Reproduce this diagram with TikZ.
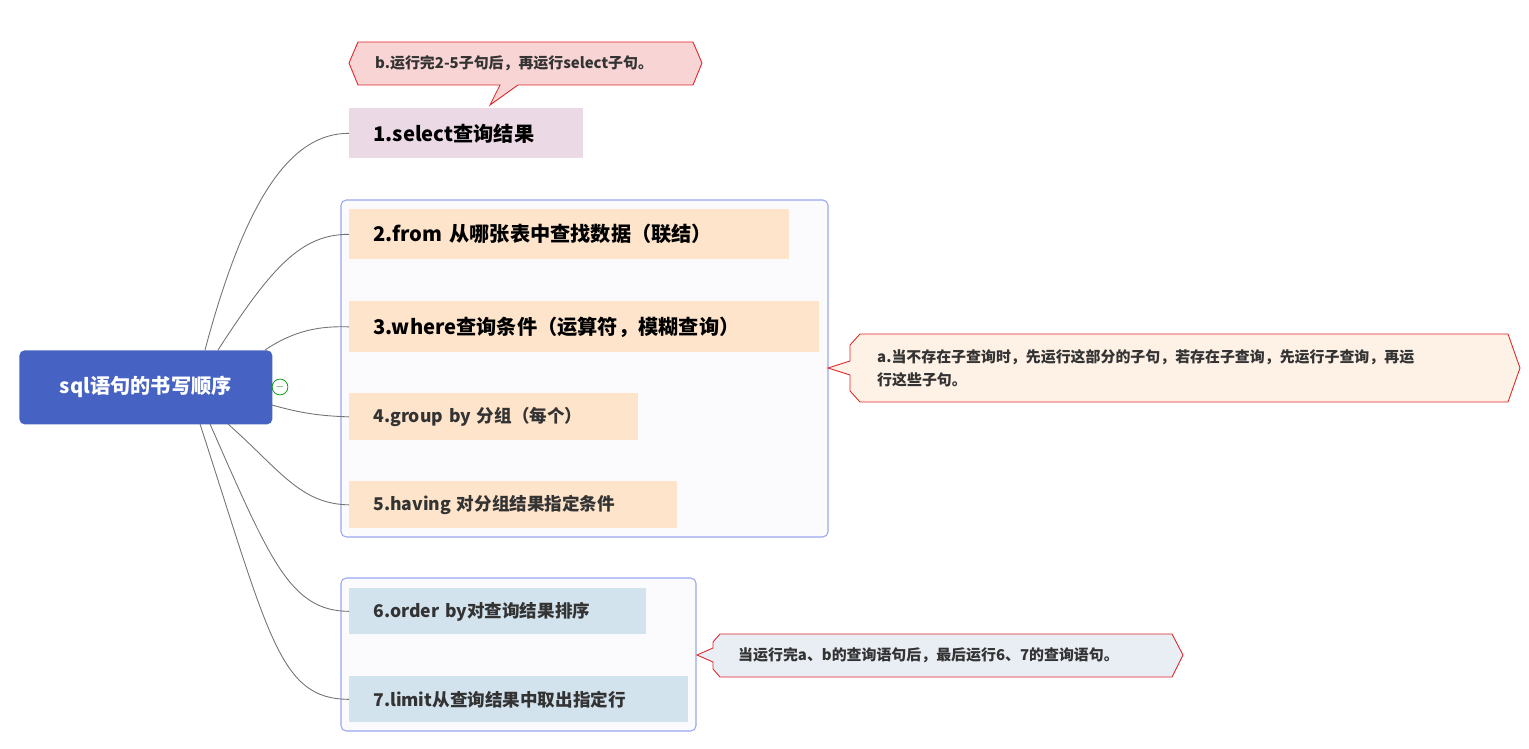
\documentclass[tikz,border=0pt]{standalone}
\usepackage{fontspec}
\setmainfont{Noto Sans CJK SC}
\usetikzlibrary{positioning,calc}
\definecolor{rootblue}{HTML}{4662C2}
\definecolor{selpink}{HTML}{EBD9E5}
\definecolor{wherepeach}{HTML}{FDE4CB}
\definecolor{ordblue}{HTML}{D3E3EE}
\definecolor{grpline}{HTML}{9AA6EE}
\definecolor{grpfill}{HTML}{FBFBFE}
\definecolor{notered}{HTML}{E0262A}
\definecolor{notepink}{HTML}{F8D4D4}
\definecolor{notecream}{HTML}{FEF2E6}
\definecolor{noteblue}{HTML}{E9EEF5}
\definecolor{txt}{HTML}{333333}
\begin{document}
\begin{tikzpicture}[x=0.02cm,y=-0.02cm,
  topic/.style={anchor=north west, inner xsep=0.48cm, inner ysep=0pt, align=left, text=txt, font=\bfseries},
  big/.style={topic, font=\bfseries\fontsize{11.5}{13}\selectfont, text=black},
  small/.style={topic, font=\bfseries\fontsize{10}{12}\selectfont},
  group/.style={draw=grpline, fill=grpfill, rounded corners=3pt, line width=0.6pt},
  note/.style={draw=notered, line width=0.5pt},
  notetext/.style={font=\bfseries\fontsize{8.5}{13}\selectfont, text=txt, align=left, anchor=west},
  link/.style={draw=black!55, line width=0.5pt}]
  \useasboundingbox (0,0) rectangle (1529,749);
  % groups
  \draw[group] (341,200) rectangle (828,537);
  \draw[group] (341,578) rectangle (696,731);
  % root
  \node[fill=rootblue, rounded corners=3pt, minimum width=253*0.02cm, minimum height=74*0.02cm,
        text=white, font=\bfseries\fontsize{11.5}{13}\selectfont, anchor=north west] (root) at (19,350) {sql语句的书写顺序};
  \node[draw=green!60!black, circle, inner sep=0pt, minimum size=9pt, font=\tiny, text=green!50!black] (fold) at (280,387) {$-$};
  % topics
  \node[big, fill=selpink, text width=186*0.02cm, minimum height=50*0.02cm] (sel) at (349,108) {1.select查询结果};
  \node[big, fill=wherepeach, text width=392*0.02cm, minimum height=50*0.02cm] (from) at (349,209) {2.from 从哪张表中查找数据（联结）};
  \node[big, fill=wherepeach, text width=422*0.02cm, minimum height=51*0.02cm] (where) at (349,301) {3.where查询条件（运算符，模糊查询）};
  \node[small, fill=wherepeach, text width=241*0.02cm, minimum height=47*0.02cm] (group) at (349,393) {4.group by 分组（每个）};
  \node[small, fill=wherepeach, text width=280*0.02cm, minimum height=47*0.02cm] (having) at (349,481) {5.having 对分组结果指定条件};
  \node[small, fill=ordblue, text width=249*0.02cm, minimum height=46*0.02cm] (order) at (349,588) {6.order by对查询结果排序};
  \node[small, fill=ordblue, text width=291*0.02cm, minimum height=46*0.02cm] (limit) at (349,676) {7.limit从查询结果中取出指定行};
  % connectors
  \coordinate (s1) at (205,350);
  \coordinate (s2) at (218,350);
  \coordinate (s3) at (265,350);
  \coordinate (s4) at (272,405);
  \coordinate (s5) at (228,424);
  \coordinate (s6) at (210,424);
  \coordinate (s7) at (200,424);
  \draw[link] (s1) .. controls (245,200) and (290,133) .. (sel.west);
  \draw[link] (s2) .. controls (270,270) and (300,234) .. (from.west);
  \draw[link] (s3) .. controls (295,330) and (320,326) .. (where.west);
  \draw[link] (s4) .. controls (300,413) and (320,416) .. (group.west);
  \draw[link] (s5) .. controls (280,470) and (300,504) .. (having.west);
  \draw[link] (s6) .. controls (270,560) and (290,611) .. (order.west);
  \draw[link] (s7) .. controls (270,640) and (280,699) .. (limit.west);
  % notes
  \draw[note, fill=notepink] (349,63) -- (358,42) -- (693,42) -- (702,63) -- (693,85)
     -- (518,85) -- (490,105) -- (500,85) -- (358,85) -- cycle;
  \node[notetext] (nb) at (369,63) {b.运行完2-5子句后，再运行select子句。};
  \draw[note, fill=notecream] (828,368) -- (850,361) -- (850,345) -- (860,334) -- (1508,334) -- (1520,368)
     -- (1508,402) -- (860,402) -- (850,391) -- (850,375) -- cycle;
  \node[notetext] (na) at (871,368) {a.当不存在子查询时，先运行这部分的子句，若存在子查询，先运行子查询，再运\\行这些子句。};
  \draw[note, fill=noteblue] (697,655) -- (713,648) -- (713,642) -- (720,634) -- (1172,634) -- (1183,655)
     -- (1172,677) -- (720,677) -- (713,669) -- (713,662) -- cycle;
  \node[notetext] (nc) at (732,655) {当运行完a、b的查询语句后，最后运行6、7的查询语句。};
  \draw[link, draw=none] (nb) -- (sel) (na) -- (group) (nc) -- (limit);
\end{tikzpicture}
\end{document}
